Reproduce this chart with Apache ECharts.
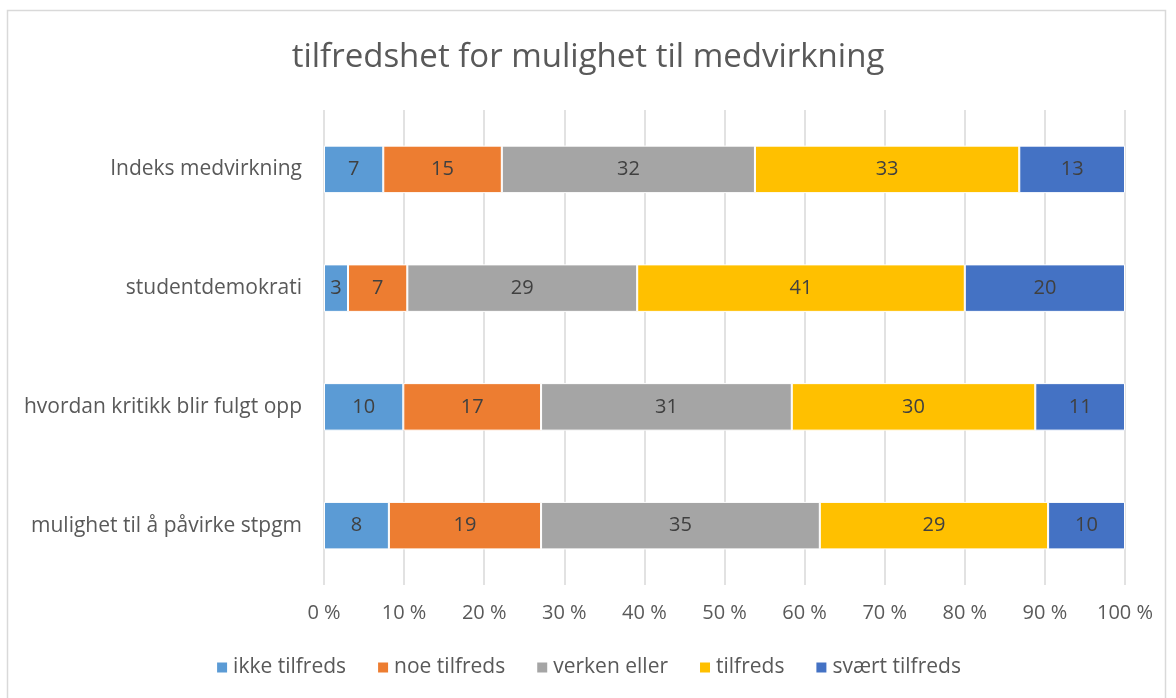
<!DOCTYPE html>
<html>
<head>
<meta charset="utf-8">
<script src="https://cdn.jsdelivr.net/npm/echarts@6/dist/echarts.min.js"></script>
<style>
html,body{margin:0;padding:0;background:#fff;}
#main{width:1176px;height:698px;}
</style>
</head>
<body>
<div id="main"></div>
<script>
// kategorier fra bunn til topp (yAxis category starter nederst)
var categories = ['mulighet til å påvirke stpgm', 'hvordan kritikk blir fulgt opp', 'studentdemokrati', 'Indeks medvirkning'];
var seriesNames = ['ikke tilfreds', 'noe tilfreds', 'verken eller', 'tilfreds', 'svært tilfreds'];
var ikkeTilfreds = [8.1, 9.9, 3.0, 7.4];
var noeTilfreds = [19.0, 17.2, 7.4, 14.8];
var verkenEller = [34.8, 31.3, 28.7, 31.6];
var tilfreds = [28.5, 30.4, 40.9, 33.0];
var svaertTilfreds = [9.6, 11.2, 20.0, 13.2];
var xTicks = ['0 %', '10 %', '20 %', '30 %', '40 %', '50 %', '60 %', '70 %', '80 %', '90 %', '100 %'];

var colors = ['#5B9BD5', '#ED7D31', '#A5A5A5', '#FFC000', '#4472C4'];
var values = [ikkeTilfreds, noeTilfreds, verkenEller, tilfreds, svaertTilfreds];
var font = 'Open Sans';

var chart = echarts.init(document.getElementById('main'));
var series = [];
$each = function(arr, fn){ for (var i = 0; i < arr.length; i++) fn(i, arr[i]); };
$each(seriesNames, function(i, name) {
	series.push({
		name: name,
		type: 'bar',
		stack: 'total',
		barWidth: '40%',
		data: values[i],
		itemStyle: {color: colors[i], borderColor: '#fff', borderWidth: 1},
		label: {
			show: true,
			color: '#404040',
			fontFamily: font,
			fontSize: 20,
			formatter: function(p) { return Math.round(p.value); }
		}
	});
});

var option = {
	animation: false,
	backgroundColor: '#fff',
	title: {
		text: 'tilfredshet for mulighet til medvirkning',
		left: 'center',
		top: 36,
		textStyle: {color: '#595959', fontFamily: font, fontWeight: 'normal', fontSize: 33}
	},
	legend: {
		bottom: 15,
		left: 'center',
		itemWidth: 12,
		itemHeight: 12,
		itemGap: 30,
		icon: 'rect',
		textStyle: {color: '#595959', fontFamily: font, fontSize: 21}
	},
	grid: {left: 324, right: 51, top: 110, bottom: 113},
	xAxis: {
		type: 'value',
		min: 0,
		max: 100,
		interval: 10,
		axisLine: {show: false},
		axisTick: {show: false},
		splitLine: {lineStyle: {color: '#d9d9d9', width: 1.5}},
		axisLabel: {
			color: '#595959', fontFamily: font, fontSize: 20, margin: 18,
			formatter: function(v) { return xTicks[v / 10]; }
		}
	},
	yAxis: {
		type: 'category',
		data: categories,
		axisLine: {show: false},
		axisTick: {show: false},
		axisLabel: {color: '#595959', fontFamily: font, fontSize: 21, margin: 22}
	},
	series: series,
	graphic: [{
		type: 'rect',
		shape: {x: 7.5, y: 10.5, width: 1158, height: 700},
		style: {fill: 'none', stroke: '#d9d9d9', lineWidth: 1.5},
		silent: true
	}]
};
chart.setOption(option);
</script>
</body>
</html>
